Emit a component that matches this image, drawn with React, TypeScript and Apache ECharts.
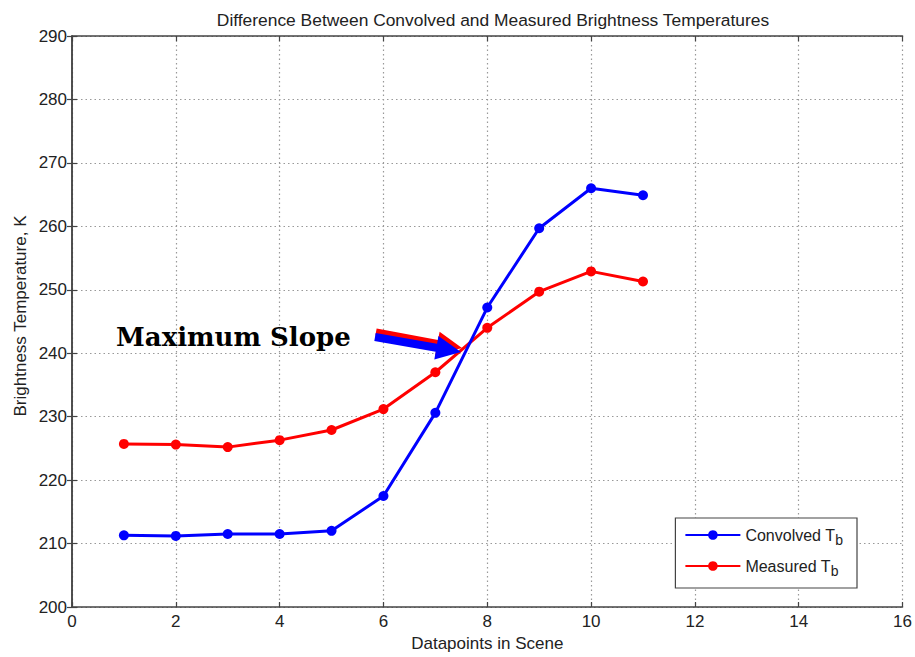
import React, { useEffect, useRef } from "react";
import * as echarts from "echarts";

const xValues = [1, 2, 3, 4, 5, 6, 7, 8, 9, 10, 11];
const convolvedTb = [211.3, 211.2, 211.5, 211.5, 212.0, 217.5, 230.6, 247.2, 259.7, 266.0, 264.9];
const measuredTb = [225.7, 225.6, 225.2, 226.3, 227.9, 231.2, 237.0, 244.0, 249.7, 252.9, 251.3];
const seriesNames = ["Convolved T{sub|b}", "Measured T{sub|b}"];
const titleText = "Difference Between Convolved and Measured Brightness Temperatures";
const xTitle = "Datapoints in Scene";
const yTitle = "Brightness Temperature, K";
const annotationText = "Maximum Slope";

function arrowPoints(tx: number, ty: number, px: number, py: number, shaftHalf: number, headHalf: number, headLen: number) {
  const dx = px - tx, dy = py - ty;
  const len = Math.sqrt(dx * dx + dy * dy);
  const ux = dx / len, uy = dy / len;
  const nx = -uy, ny = ux;
  const bx = px - ux * headLen, by = py - uy * headLen;
  return [
    [tx + nx * shaftHalf, ty + ny * shaftHalf],
    [bx + nx * shaftHalf, by + ny * shaftHalf],
    [bx + nx * headHalf, by + ny * headHalf],
    [px, py],
    [bx - nx * headHalf, by - ny * headHalf],
    [bx - nx * shaftHalf, by - ny * shaftHalf],
    [tx - nx * shaftHalf, ty - ny * shaftHalf],
  ];
}

export default function App() {
  const ref = useRef<HTMLDivElement>(null);
  useEffect(() => {
    document.body.style.margin = "0";
    const chart = echarts.init(ref.current!, null, { renderer: "svg" });
    const font = "'Liberation Sans', Arial, sans-serif";
    const axisCommon = {
      min: 0,
      max: 16,
      interval: 2,
    };
    const lblColor = "#222";
    chart.setOption({
      animation: false,
      backgroundColor: "#ffffff",
      title: {
        text: titleText,
        left: 488,
        textAlign: "center",
        top: 6,
        textStyle: { fontFamily: font, fontSize: 17.4, fontWeight: "normal", color: "#222" },
      },
      grid: { left: 72, right: 12, top: 36, bottom: 50, show: false },
      legend: {
        orient: "vertical",
        right: 58,
        top: 518,
        width: 180,
        backgroundColor: "#fff",
        borderColor: "#444",
        borderWidth: 1.2,
        borderRadius: 0,
        padding: [9, 14, 10, 9],
        itemWidth: 55,
        itemHeight: 12,
        itemGap: 11,
        textStyle: {
          fontFamily: font,
          fontSize: 16,
          color: lblColor,
          rich: {
            sub: { fontFamily: font, fontSize: 14, color: lblColor, padding: [10, 0, 0, 0] },
          },
        },
      },
      xAxis: [
        {
          type: "value",
          ...axisCommon,
          position: "bottom",
          name: xTitle,
          nameLocation: "middle",
          nameGap: 27,
          nameTextStyle: { fontFamily: font, fontSize: 17, color: "#222" },
          axisLine: { show: true, lineStyle: { color: "#444", width: 1.5 } },
          axisTick: { show: true, inside: true, length: 5, lineStyle: { color: "#444", width: 1.2 } },
          axisLabel: { fontFamily: font, fontSize: 17, color: lblColor, margin: 6 },
          splitLine: { show: true, lineStyle: { color: "#999", type: [1.5, 3], width: 1.2 } },
        },
        {
          type: "value",
          ...axisCommon,
          position: "top",
          axisLine: { show: true, lineStyle: { color: "#444", width: 1.5 } },
          axisTick: { show: true, inside: true, length: 5, lineStyle: { color: "#444", width: 1.2 } },
          axisLabel: { show: false },
          splitLine: { show: false },
        },
      ],
      yAxis: [
        {
          type: "value",
          min: 200,
          max: 290,
          interval: 10,
          position: "left",
          axisLine: { show: true, lineStyle: { color: "#444", width: 1.5 } },
          axisTick: { show: true, inside: true, length: 5, lineStyle: { color: "#444", width: 1.2 } },
          axisLabel: { fontFamily: font, fontSize: 17, color: lblColor, margin: 5 },
          splitLine: { show: true, lineStyle: { color: "#999", type: [1.5, 3], width: 1.2 } },
        },
        {
          type: "value",
          min: 200,
          max: 290,
          interval: 10,
          position: "right",
          axisLine: { show: true, lineStyle: { color: "#444", width: 1.5 } },
          axisTick: { show: true, inside: true, length: 5, lineStyle: { color: "#444", width: 1.2 } },
          axisLabel: { show: false },
          splitLine: { show: false },
        },
      ],
      series: [
        {
          name: seriesNames[0],
          type: "line",
          xAxisIndex: 0,
          yAxisIndex: 0,
          data: xValues.map((x, i) => [x, convolvedTb[i]]),
          symbol: "circle",
          symbolSize: 10,
          lineStyle: { color: "#0000ff", width: 3 },
          itemStyle: { color: "#0000ff" },
          z: 3,
        },
        {
          name: seriesNames[1],
          type: "line",
          xAxisIndex: 0,
          yAxisIndex: 0,
          data: xValues.map((x, i) => [x, measuredTb[i]]),
          symbol: "circle",
          symbolSize: 10,
          lineStyle: { color: "#ff0000", width: 3 },
          itemStyle: { color: "#ff0000" },
          z: 2,
        },
      ],
      graphic: [
        {
          type: "text",
          x: 20,
          y: 316,
          rotation: Math.PI / 2,
          style: {
            text: yTitle,
            font: "17px 'Liberation Sans', Arial, sans-serif",
            fill: "#222",
            align: "center",
            verticalAlign: "middle",
          },
        },
        {
          type: "text",
          left: 116,
          top: 324,
          z: 100,
          style: {
            text: annotationText,
            font: "bold 26px 'DejaVu Serif', serif",
            fill: "#000",
          },
        },
        {
          type: "polygon",
          z: 100,
          shape: { points: arrowPoints(376, 332, 462, 348, 3.5, 12, 25) },
          style: { fill: "#ff0000" },
        },
        {
          type: "polygon",
          z: 101,
          shape: { points: arrowPoints(375, 337, 461, 352, 4, 12, 25) },
          style: { fill: "#0000ff" },
        },
      ],
    });
    return () => chart.dispose();
  }, []);
  return <div ref={ref} style={{ width: 915, height: 657 }} />;
}
